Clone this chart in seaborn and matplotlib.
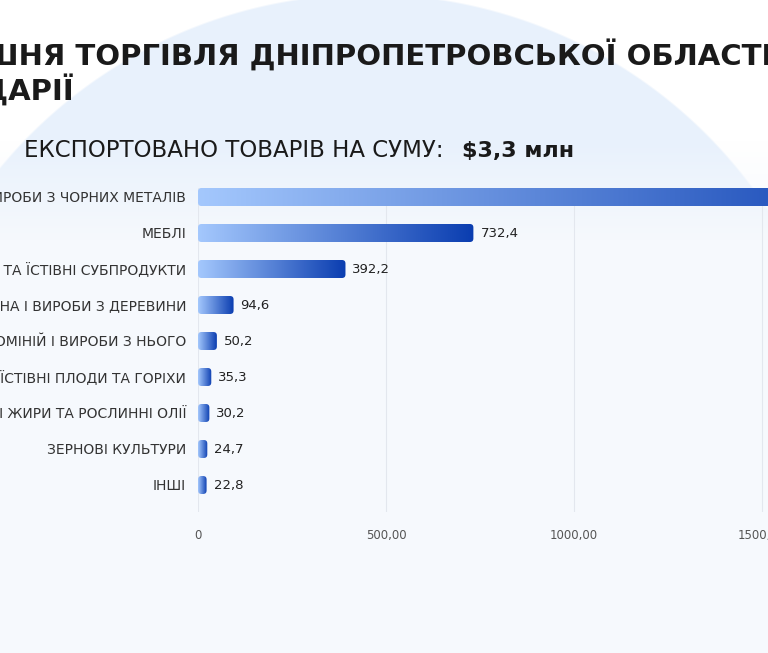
import numpy as np
import matplotlib
matplotlib.use("Agg")
import matplotlib.pyplot as plt
import seaborn as sns
from matplotlib.patches import FancyBboxPatch
from matplotlib.colors import LinearSegmentedColormap

# chart data (thousand USD)
categories = [
    "ВИРОБИ З ЧОРНИХ МЕТАЛІВ",
    "МЕБЛІ",
    "М'ЯСО ТА ЇСТІВНІ СУБПРОДУКТИ",
    "ДЕРЕВИНА І ВИРОБИ З ДЕРЕВИНИ",
    "АЛЮМІНІЙ І ВИРОБИ З НЬОГО",
    "ЇСТІВНІ ПЛОДИ ТА ГОРІХИ",
    "ТВАРИННІ ЖИРИ ТА РОСЛИННІ ОЛІЇ",
    "ЗЕРНОВІ КУЛЬТУРИ",
    "ІНШІ",
]
values = [1917.6, 732.4, 392.2, 94.6, 50.2, 35.3, 30.2, 24.7, 22.8]
x_ticks = [0, 500, 1000, 1500]
x_tick_labels = ["0", "500,00", "1000,00", "1500,00"]

title_line1 = "ЗОВНІШНЯ ТОРГІВЛЯ ДНІПРОПЕТРОВСЬКОЇ ОБЛАСТІ"
title_line2 = "ШВЕЙЦАРІЇ"
subtitle = "ЕКСПОРТОВАНО ТОВАРІВ НА СУМУ:"
total = "$3,3 млн"

sns.set_theme(style="white")
plt.rcParams['font.family'] = ['DejaVu Sans']

W, H = 768, 653
fig = plt.figure(figsize=(W / 100, H / 100), dpi=100)

# background: pale circle on white, fading into a light card lower down
bg = fig.add_axes([0, 0, 1, 1], zorder=0)
yy, xx = np.mgrid[0:H, 0:W].astype(float)
white = np.array([255, 255, 255]) / 255
circ_top = np.array([232, 241, 252]) / 255
card = np.array([246, 249, 253]) / 255
dist = np.sqrt((xx - 368) ** 2 + (yy - 472) ** 2)
inside = np.clip((479 - dist) / 2.0, 0, 1)[..., None]
img = white * (1 - inside) + circ_top * inside
fade = np.clip((yy - 140) / 100, 0, 1)[..., None]
img = img * (1 - fade) + card * fade
bg.imshow(img, extent=(0, W, H, 0), aspect='auto', interpolation='bilinear')
bg.set_xlim(0, W)
bg.set_ylim(H, 0)
bg.axis('off')

# main axes: x=0 at 198px, 500 units = 188px
left_px, right_px, top_px, bottom_px = 198, 768, 188, 512
ax = fig.add_axes([left_px / W, 1 - bottom_px / H, (right_px - left_px) / W,
                   (bottom_px - top_px) / H], zorder=1)
ax.patch.set_alpha(0)
px_per_unit = 188 / 500
xmax = (right_px - left_px) / px_per_unit

sns.barplot(x=values, y=categories, orient='h', ax=ax, width=0.5,
            color='#3a6fd8', saturation=1)

cmap = LinearSegmentedColormap.from_list('bar', ['#a4c8fd', '#0a3db0'])
grad = np.linspace(0, 1, 256).reshape(1, -1)
ux = xmax / (right_px - left_px)      # data units per pixel in x
uy = 9.0 / (bottom_px - top_px)       # data units per pixel in y
for p in list(ax.patches):
    x0, y0, w, h = p.get_x(), p.get_y(), p.get_width(), p.get_height()
    p.set_visible(False)
    box = FancyBboxPatch((x0, y0), w, h,
                         boxstyle="round,pad=0,rounding_size=%f" % (3.5 * ux),
                         mutation_aspect=uy / ux, fc='none', ec='none',
                         transform=ax.transData)
    ax.add_patch(box)
    im = ax.imshow(grad, cmap=cmap, extent=(x0, x0 + w, y0 + h, y0),
                   aspect='auto', interpolation='bilinear', zorder=2)
    im.set_clip_path(box)

for i, v in enumerate(values):
    ax.text(v + 7 * ux, i, f"{v:.1f}".replace('.', ','), va='center', ha='left',
            fontsize=9.5, color='#222222', zorder=3)

ax.set_xlim(0, xmax)
ax.set_ylim(8.75, -0.25)
ax.set_xticks(x_ticks)
ax.set_xticklabels(x_tick_labels, fontsize=8.5, color='#555555')
ax.tick_params(axis='x', length=0, pad=12)
ax.tick_params(axis='y', length=0, pad=8.5, labelsize=10, labelcolor='#333333')
ax.xaxis.grid(True, color='#e3e7ee', lw=0.8)
ax.set_axisbelow(True)
for s in ax.spines.values():
    s.set_visible(False)
ax.set_xlabel('')
ax.set_ylabel('')

# titles (the source image is cropped on both sides)
fig.text(772 / W, 1 - 66 / H, title_line1, ha='right', va='baseline',
         fontsize=21, fontweight='bold', color='#1a1a1a')
fig.text(74 / W, 1 - 101 / H, title_line2, ha='right', va='baseline',
         fontsize=21, fontweight='bold', color='#1a1a1a')
fig.text(443 / W, 1 - 157 / H, subtitle, ha='right', va='baseline',
         fontsize=16.5, color='#1a1a1a')
fig.text(462 / W, 1 - 157 / H, total, ha='left', va='baseline',
         fontsize=16, fontweight='bold', color='#1a1a1a')

fig.savefig('out.png', dpi=100)
